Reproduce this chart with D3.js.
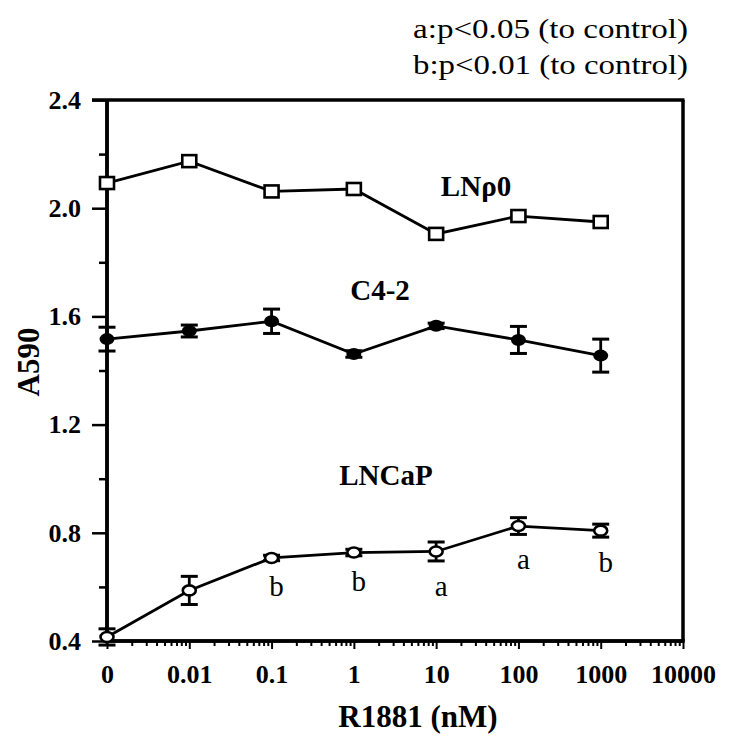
<!DOCTYPE html>
<html><head><meta charset="utf-8">
<script src="https://cdn.jsdelivr.net/npm/d3@7"></script>
<style>html,body{margin:0;padding:0;background:#fff;}svg{display:block;}</style>
</head><body>
<svg id="chart" width="729" height="738"></svg>
<script>
// ---- data ----
const doses = [0, 0.01, 0.1, 1, 10, 100, 1000];
const xTickValues = [0.001, 0.01, 0.1, 1, 10, 100, 1000, 10000];
const xTickLabels = ["0", "0.01", "0.1", "1", "10", "100", "1000", "10000"];
const yTickValues = [0.4, 0.8, 1.2, 1.6, 2.0, 2.4];
const yTickLabels = ["0.4", "0.8", "1.2", "1.6", "2.0", "2.4"];
const lnp0Values = [2.093, 2.174, 2.062, 2.071, 1.905, 1.971, 1.949];
const c42Values = [1.516, 1.546, 1.582, 1.461, 1.565, 1.513, 1.455];
const c42Errors = [0.044, 0.022, 0.045, 0.012, 0.01, 0.05, 0.061];
const lncapValues = [0.415, 0.587, 0.707, 0.727, 0.731, 0.825, 0.808];
const lncapErrors = [0.03, 0.052, 0.01, 0.012, 0.035, 0.031, 0.024];
const lncapSig = ["", "", "b", "b", "a", "a", "b"];
const notes = ["a:p<0.05 (to control)", "b:p<0.01 (to control)"];
const seriesNames = ["LNρ0", "C4-2", "LNCaP"];

const svg = d3.select("#chart");
const serif = "'Liberation Serif','Times New Roman',serif";
const L = 107, R = 683, T = 100, B = 641;
const zeroPos = 0.001;
const x = d3.scaleLog().domain([0.001, 10000]).range([L, R]);
const y = d3.scaleLinear().domain([0.4, 2.4]).range([B, T]);
const px = d => x(d === 0 ? zeroPos : d);

// frame (top and right)
svg.append("line").attr("x1", L - 15).attr("x2", R + 1.5).attr("y1", T).attr("y2", T)
  .attr("stroke", "#000").attr("stroke-width", 3.5);
svg.append("line").attr("x1", R).attr("x2", R).attr("y1", T).attr("y2", B)
  .attr("stroke", "#000").attr("stroke-width", 3.5);

// x axis
const minorX = [];
for (let k = -3; k <= 3; k++) for (let m = 2; m <= 9; m++) minorX.push(m * Math.pow(10, k));
const gx = svg.append("g").attr("transform", `translate(0,${B})`);
gx.call(d3.axisBottom(x).tickValues(minorX).tickSize(5).tickFormat(""));
gx.append("g").call(d3.axisBottom(x).tickValues(xTickValues).tickSize(8)
  .tickFormat((d, i) => xTickLabels[i]));
gx.selectAll("path.domain").attr("stroke-width", 3.5).attr("d", `M${L - 2},0H${R + 1.5}`);
gx.selectAll(".tick line").attr("stroke-width", 2);
gx.selectAll(".tick text").attr("font-family", serif).attr("font-weight", "bold")
  .attr("font-size", 26).attr("fill", "#000").attr("dy", null).attr("y", 42);

// y axis
const minorY = [0.6, 1.0, 1.4, 1.8, 2.2];
const gy = svg.append("g").attr("transform", `translate(${L},0)`);
gy.call(d3.axisLeft(y).tickValues(minorY).tickSize(8).tickFormat(""));
gy.append("g").call(d3.axisLeft(y).tickValues(yTickValues).tickSize(15)
  .tickFormat((d, i) => yTickLabels[i]).tickPadding(11));
gy.selectAll("path.domain").attr("stroke-width", 3.5).attr("d", `M0,${T}V${B + 1.5}`);
gy.selectAll(".tick line").attr("stroke-width", 2.5);
gy.selectAll(".tick text").attr("font-family", serif).attr("font-weight", "bold")
  .attr("font-size", 26).attr("fill", "#000");

// axis titles
svg.append("text").attr("x", 418).attr("y", 727).attr("text-anchor", "middle")
  .attr("font-family", serif).attr("font-weight", "bold").attr("font-size", 31)
  .text("R1881 (nM)");
svg.append("text").attr("transform", `translate(39,362) rotate(-90)`).attr("text-anchor", "middle")
  .attr("font-family", serif).attr("font-weight", "bold").attr("font-size", 31)
  .text("A590");

// significance notes
notes.forEach((t, i) => svg.append("text").attr("x", 413).attr("y", 38 + i * 36)
  .attr("textLength", 275).attr("lengthAdjust", "spacingAndGlyphs")
  .attr("font-family", serif).attr("font-size", 27).text(t));

const line = d3.line().x((d, i) => px(doses[i])).y(d => y(d));
function series(vals) {
  svg.append("path").datum(vals).attr("d", line).attr("fill", "none")
    .attr("stroke", "#000").attr("stroke-width", 2.8);
}
function errbars(vals, errs) {
  const g = svg.append("g");
  vals.forEach((v, i) => {
    const cx = px(doses[i]);
    g.append("line").attr("x1", cx).attr("x2", cx).attr("y1", y(v - errs[i])).attr("y2", y(v + errs[i]))
      .attr("stroke", "#000").attr("stroke-width", 2.8);
    [v - errs[i], v + errs[i]].forEach(e => g.append("line").attr("x1", cx - 8.5).attr("x2", cx + 8.5)
      .attr("y1", y(e)).attr("y2", y(e)).attr("stroke", "#000").attr("stroke-width", 3));
  });
}

// LNp0
series(lnp0Values);
svg.append("g").selectAll("rect").data(lnp0Values).join("rect")
  .attr("x", (d, i) => px(doses[i]) - 7).attr("y", d => y(d) - 6)
  .attr("width", 14).attr("height", 12).attr("fill", "#fff").attr("stroke", "#000").attr("stroke-width", 2.6);

// C4-2
errbars(c42Values, c42Errors);
series(c42Values);
svg.append("g").selectAll("ellipse").data(c42Values).join("ellipse")
  .attr("cx", (d, i) => px(doses[i])).attr("cy", d => y(d)).attr("rx", 7.5).attr("ry", 6).attr("fill", "#000");

// LNCaP
errbars(lncapValues, lncapErrors);
series(lncapValues);
svg.append("g").selectAll("ellipse").data(lncapValues).join("ellipse")
  .attr("cx", (d, i) => px(doses[i])).attr("cy", d => y(d)).attr("rx", 6.5).attr("ry", 5)
  .attr("fill", "#fff").attr("stroke", "#000").attr("stroke-width", 2.6);
svg.append("g").selectAll("text").data(lncapValues).join("text")
  .attr("x", (d, i) => px(doses[i]) + 5)
  .attr("y", (d, i) => y(d - lncapErrors[i]) + 35)
  .attr("text-anchor", "middle").attr("font-family", serif).attr("font-size", 29)
  .text((d, i) => lncapSig[i]);

// series labels
const labelPos = [[476, 196], [380, 300], [386, 485]];
seriesNames.forEach((n, i) => svg.append("text").attr("x", labelPos[i][0]).attr("y", labelPos[i][1])
  .attr("text-anchor", "middle").attr("font-family", serif).attr("font-weight", "bold")
  .attr("font-size", 29).text(n));
</script>
</body></html>
